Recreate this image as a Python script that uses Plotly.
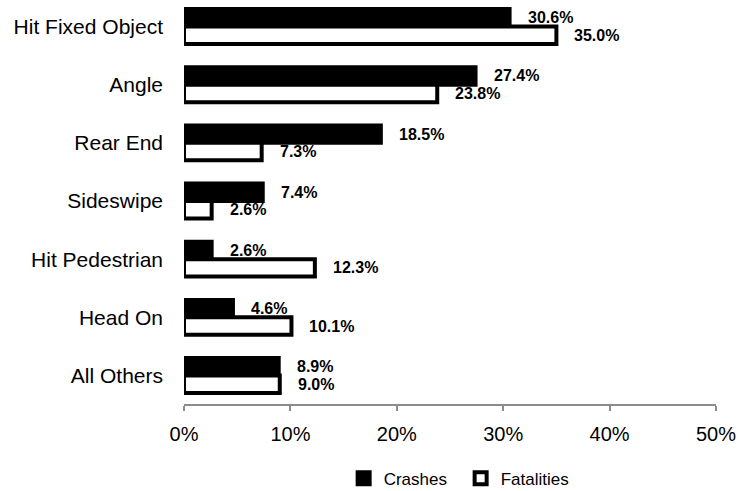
import plotly.graph_objects as go

categories = ["Hit Fixed Object", "Angle", "Rear End", "Sideswipe",
              "Hit Pedestrian", "Head On", "All Others"]
crashes = [0.306, 0.274, 0.185, 0.074, 0.026, 0.046, 0.089]
fatalities = [0.350, 0.238, 0.073, 0.026, 0.123, 0.101, 0.090]
x_ticks = [0, 0.1, 0.2, 0.3, 0.4, 0.5]

FONT = "Liberation Sans, Arial, sans-serif"

fig = go.Figure()
fig.add_trace(go.Bar(
    y=categories, x=crashes, orientation="h", name="Crashes",
    marker=dict(color="black", line=dict(color="black", width=4)),
))
fig.add_trace(go.Bar(
    y=categories, x=fatalities, orientation="h", name="Fatalities",
    marker=dict(color="white", line=dict(color="black", width=4)),
))

annotations = []
for i, (c, f) in enumerate(zip(crashes, fatalities)):
    for val, off in ((c, -0.15), (f, 0.15)):
        annotations.append(dict(
            x=val, y=i + off, xref="x", yref="y",
            text=f"<b>{val*100:.1f}%</b>", showarrow=False,
            xanchor="left", yanchor="middle", xshift=16,
            font=dict(family=FONT, size=16, color="black"),
        ))

fig.update_layout(
    width=743, height=491,
    margin=dict(l=184, r=27, t=0, b=87),
    paper_bgcolor="white", plot_bgcolor="white",
    barmode="group", bargap=0.4, bargroupgap=0,
    font=dict(family=FONT, color="black"),
    annotations=annotations,
    showlegend=True,
    legend=dict(
        orientation="h", x=0.52, xanchor="center",
        yref="container", y=0.025, yanchor="middle",
        font=dict(family=FONT, size=17, color="black"),
        traceorder="normal", itemwidth=30,
        entrywidth=72, entrywidthmode="pixels",
    ),
    xaxis=dict(
        range=[0, 0.5], tickvals=x_ticks, tickformat=".0%",
        showgrid=False, zeroline=False,
        showline=True, linecolor="#8c8c8c", linewidth=1.5,
        ticks="outside", ticklen=5, tickcolor="#8c8c8c", tickwidth=1.5,
        tickfont=dict(family=FONT, size=20, color="black"),
        ticklabelstandoff=6,
    ),
    yaxis=dict(
        type="category", categoryorder="array", categoryarray=categories,
        range=[6.49, -0.456],
        showgrid=False, zeroline=False, showline=False, ticks="",
        tickfont=dict(family=FONT, size=21, color="black"),
        ticklabelstandoff=20,
    ),
)

fig.write_html("out.html", config={"displayModeBar": False},
               post_script="document.body.style.margin='0px';document.body.style.overflow='hidden';")
